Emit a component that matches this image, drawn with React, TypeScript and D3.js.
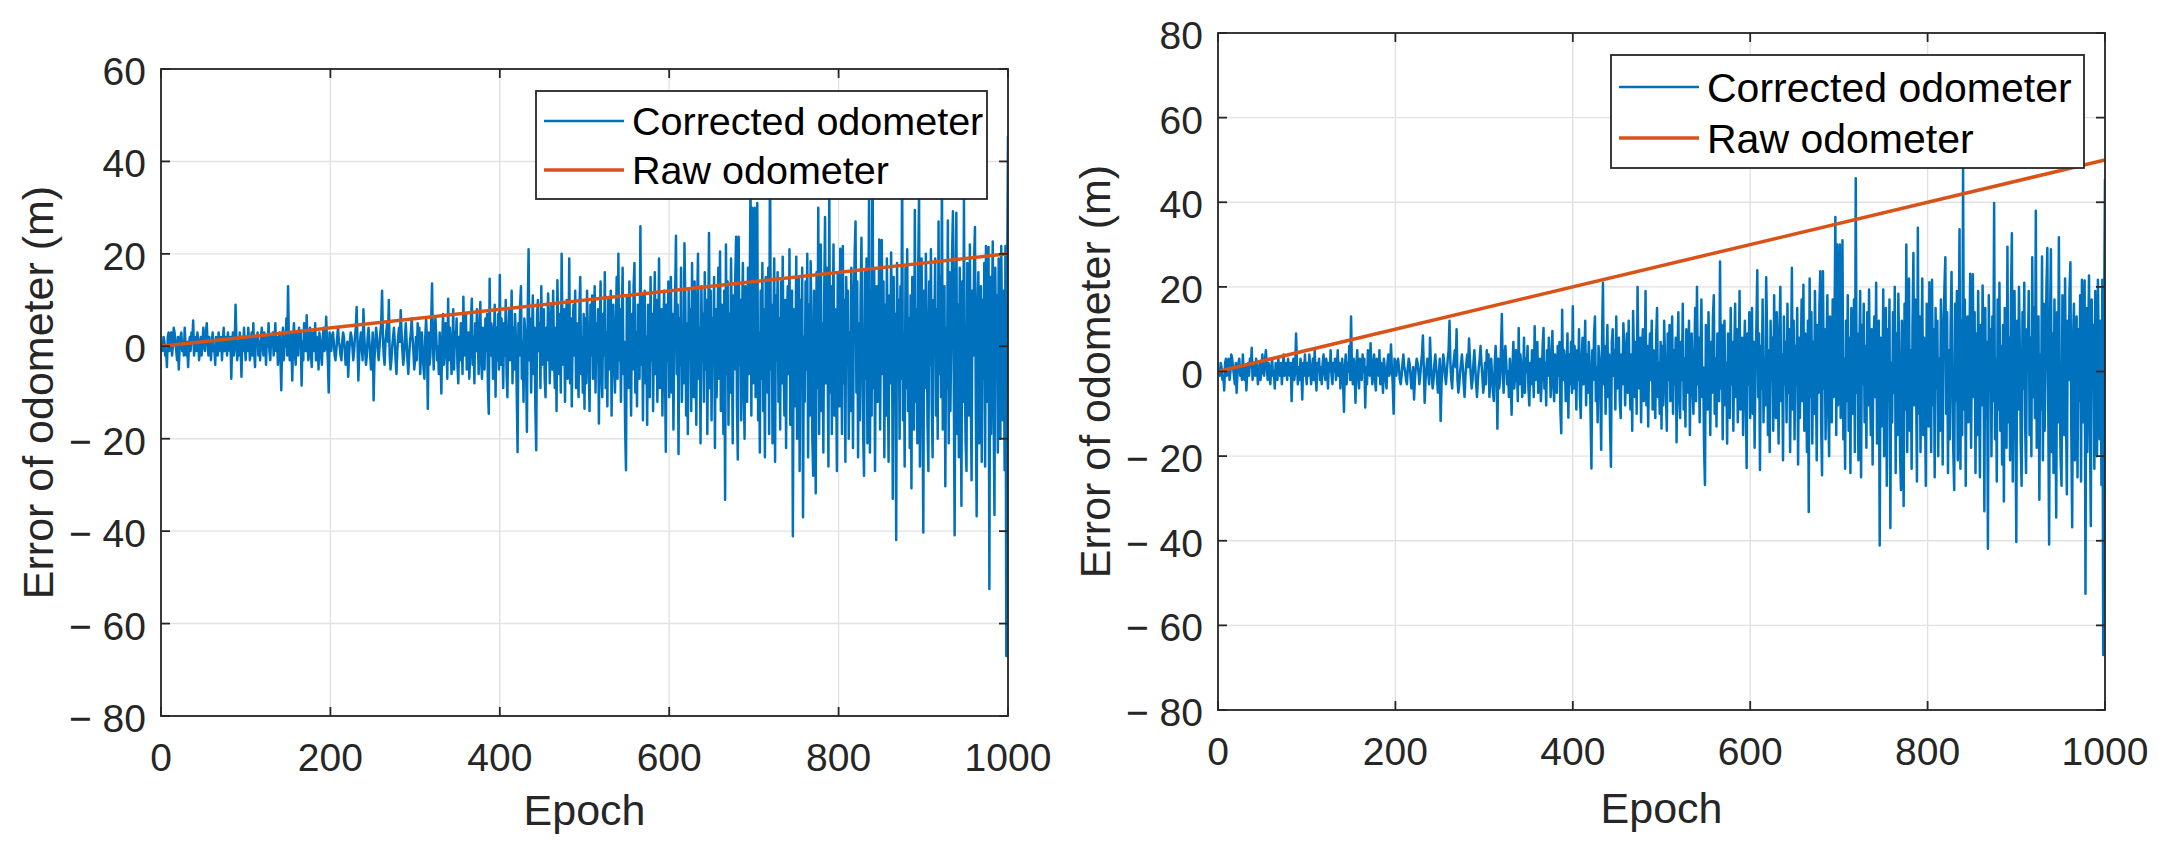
import * as d3 from 'd3'

// Corrected odometer error in blocks of 100 epochs
const err000 = [
  0.5, -1, 2, 1, -2, -1, -4.5, 2, 3, -1,
  1, 3, -2, 0, 4, 3, 1, -1, -3, 2,
  -5, 0, 2, 3, -1, 1, -2, 4, 0, -2,
  1, -4.5, 0, 2, -1, 3, 1, 5.6, -2, 0,
  2, -1, 3, 1, -3, 0, 2, -2, 1, 4,
  0, -1, 3, 5, 1, -2, 2, 0, -3, 1,
  3, -1, 0, -4, 2, 1, -2, 3, 0, -1,
  2, -3, 1, 4, -1, 0, 2, -2, 3, 1,
  -1, 2, -7, 1, 3, -2, 0, 9, 2, -3,
  1, -2, 3, 0, -6.6, 2, -1, 4, 0, -3,
]
const err100 = [
  2, -1, 4, 1, -3, 0, 3, -2, 5, -1,
  -4.5, 2, 0, 3, -2, 1, -3, 2, 4, 0,
  -2, 3, 1, -4, 2, 0, 5, -1, -3, 2,
  0, 3, -2, 1, 5, -1, 2, -4, 0, 3,
  -2, -9.5, 1, 4, -3, 2, 0, 6, -2, 13,
  1, -3, 3, 0, -7.4, 2, 5, -1, -4, 3,
  1, -2, 4, 0, 3, -8.5, 1, -3, 5, 2,
  -1, 6.7, 0, -3, 2, 4, -2, -4.5, 3, 1,
  -1, 5, -3, 2, 0, -5, 3, 1, -2, -4,
  2, 4, -1, 0, 6.4, 1, -3, -10, 3, 2,
]
const err200 = [
  -1, 2, 3, 1, -2, -3, -1, 2, 4, 1,
  0, -2, -3, 1, 3, 2, -1, -4, -2, 1,
  -6.6, -2, 1, 3, 2, 0, -3, -1, 2, 4,
  8.5, 1, -7.4, -2, 1, 3, 0, -3, 8, 2,
  -1, -4, -2, 2, 4, 1, -2, -5, -1, 3,
  -11.7, -3, 1, 4, 2, -1, -3, 0, 3, 5,
  12, 2, -2, -4, 1, 3, 5, 1, 10, -2,
  -5, -3, 0, 2, 4, 1, -3, -6, -1, 2,
  4, 1, 7.8, 3, -1, -4, -2, 2, 5, 1,
  -3, -6, -2, 1, 3, 6, 2, -1, -5, -3,
]
const err300 = [
  2, -3, 5, 1, 4, -6, -2, 3, -1, -5,
  -7, 2, 6, 1, -13.5, 3, -4, -2, 5, 13.6,
  1, -5, 4, 6, 2, -3, 0, -6, 3, -2,
  -10.2, 1, 7, -4, -1, 5, 2, -7, 10.3, -3,
  4, 1, -6, -2, 8, -5, 3, 0, 6, -4,
  -8, 2, -3, 5, 1, -6, 10.7, -2, 4, 7,
  -5, 0, 3, -7, -2, 6, 10.3, -4, 2, -8,
  5, -1, 8, 3, -6, 1, 9.6, -3, -7, 4,
  2, -5, 6, -1, 7, -9, -14.6, 14.6, -2, 5,
  3, -7, 1, 9, -10.9, 4, -3, 7, -5, 15.4,
]
const err400 = [
  -4, 6, 2, -9, 5, -2, 10, -6, -11, 3,
  8, -3, 1, 12, -8, 4, -5, 7, 2, -10,
  -22.9, 5, -2, 9, 13, -7, 1, -12, 6, 3,
  -4, -18.5, 8, 21, -3, 6, -10, 2, 11, -6,
  4, -13, -22.5, 7, 10, -1, 5, -9, 13, -4,
  2, 8, -7, -11, 4, -3, 11.4, 6, -8, 1,
  9, -5, 12, -2, -9, 4, -14, 14.3, 3, -6,
  7, -10, 20, 2, -4, 8, -12, 5, 10, -7,
  -3, 19, -8, 6, -13, 3, 9, -2, 12, -9,
  5, -4, -11, 8, 15, -6, 2, -10, 7, -13.5,
]
const err500 = [
  6, -8, 12, 3, -5, -14, 9, -2, 11, -7,
  2, 13, -10, 5, -3, 8, -16.7, 4, 14, -6,
  -11, 7, -2, 16, -9, 3, -13, 10, 1, -5,
  12, -15, 6, 9, -4, -10, 3, 15, -7, 20,
  -3, 8, -12, 5, 17, -6, 1, -18, -26.8, 11,
  4, -9, 14, 2, -15, 7, -5, 13, 18, -10,
  3, -13, 9, -1, -7, 26, -4, 11, -16, 6,
  12, -8, 2, -17, 9, 5, -11, 15, -3, 7,
  -14, 4, 16, -6, 10, -12, -2, 19, -9, 5,
  8, -15, 2, 12, -5, -22.8, 9, -3, 14, -11,
]
const err600 = [
  4, 15, -10, 7, -18, 2, 11, 23.9, -6, 9,
  -23.3, 6, -4, 17, -12, 3, -8, 22.3, 10, -15,
  5, -19, 12, -2, 8, -14, 18, -6, -11, 14,
  1, -17, 9, 20, -7, 4, -21, 13, -3, 7,
  -12, 16, -5, 10, -19, 2, 24.5, -9, 12, -16,
  6, -3, 15, -22, 8, -11, 3, 17, -7, 20.5,
  -14, 9, -2, -19, 12, -33.2, 22, -6, 14, -17,
  7, -10, 19, 2, -21, 11, -5, 15, 23.7, -13,
  -24.5, 23.7, -4, 10, -16, 5, 18, -9, -20, 13,
  2, -12, 17, -6, 9, 36.5, -15, 30, -8, 14,
]
const err700 = [
  30, -11, 6, 31, -16, 3, -23, 12, -7, 18,
  -14, 8, -24, 15, 2, -10, 17, -19, 45.7, -5,
  9, -21, 4, 19, -25, 11, -3, 16, -12, 6,
  -18, 14, -8, 19.4, -2, -15, 10, -22, 7, 13,
  -6, 21, -17, 3, 12, -41.1, 8, -13, -4, 19.4,
  -20, 6, 15, -27, 10, -7, 17, -37, 2, -12,
  14, -5, 20, -24, 9, -15, 18.4, 4, -20, -28,
  12, -3, -31.8, 16, -9, 30, -19, 7, 22, -14,
  5, -23, 11, 28, -8, 17, -2, -26, 34, -10,
  13, -19, 3, 22, -15, 8, -6, -27, 16, -4,
]
const err800 = [
  -13, 21.1, 6, -19, 21.7, -8, 10, -25, 15, -4,
  12, -20, 3, -14, 17, 7, -22, 9, 20, 27,
  -10, 14, -24, 5, -16, 11, 23.5, -3, -19, -28,
  16, -7, 19, -21, 4, 33.6, -23, 12, -15, 48,
  -9, 17, -27, 6, 13, -12, 2, 23.1, -18, 8,
  23, -6, 14, -24, 9, -15, 19, -3, -25, 11,
  -8, 20.3, 5, -33, 15, -11, 7, -41.9, 18, -4,
  10, -20, 13, -7, 39.8, -16, 3, -26, 17, -9,
  21, -14, 6, -22, 11, -30.7, 15, -5, -18, 29.5,
  -12, 8, -21, 17, 32.7, -26, 4, 19, -10, -40.3,
]
const err900 = [
  12, -9, 20, 5, -17, -27, 14, -4, 21, -13,
  -24, 10, 3, 19, -15, 8, -20, 27, -6, 15,
  -11, 38, -18, 7, 13, -30.3, 4, -9, 27.2, -21,
  16, -14, 2, 20, 29.2, -8, -40.9, 11, 28.9, -19,
  9, -24, 17, -3, -34.5, 14, -12, 31.7, -6, -21,
  -27, 18, 5, -15, 22, -9, -29, 12, -2, 19,
  25.8, -14, -36.8, 8, 16, -21, 3, 13, -25, 10,
  -7, 18, -26, 21.7, -12, 5, 21.5, -52.5, 15, -19,
  6, 22.7, -13, -36.5, 17, -4, 11, -23, 19, -10,
  -20, 21.7, 3, -16, 12, -26.8, 21.7, -67, 14, 45.5,
]

const correctedError = [
  ...err000, ...err100, ...err200, ...err300, ...err400,
  ...err500, ...err600, ...err700, ...err800, ...err900,
]

// Raw odometer drift: straight line from start to end epoch
const rawEpochs = [0, 1000]
const rawLeft = [0, 20]
const rawRight = [0, 50]

const xTicks = [0, 200, 400, 600, 800, 1000]
const yTicksLeft = [-80, -60, -40, -20, 0, 20, 40, 60]
const yTicksRight = [-80, -60, -40, -20, 0, 20, 40, 60, 80]
const legendLabels = ['Corrected odometer', 'Raw odometer']

const BLUE = '#0072BD'
const ORANGE = '#D95319'
const AXIS = '#262626'
const GRID = '#e2e2e2'
const FONT = '"Liberation Sans", Arial, Helvetica, sans-serif'

const fmt = (v: number) => (v < 0 ? `\u2212 ${Math.abs(v)}` : `${v}`)

interface PanelProps {
  id: string
  left: number
  right: number
  top: number
  bottom: number
  yDomain: [number, number]
  yTicks: number[]
  raw: number[]
  legendW: number
  legendH: number
  legendFont: number
  legendRow1: number
  legendRow2: number
  yLabelX: number
  xLabelY: number
}

function Panel(p: PanelProps) {
  const x = d3.scaleLinear().domain([0, 1000]).range([p.left, p.right])
  const y = d3.scaleLinear().domain(p.yDomain).range([p.bottom, p.top])
  const tickLen = 9

  const blueLine = d3
    .line<number>()
    .x((_, i) => x(i + 1))
    .y((d) => y(d))(correctedError)

  const rawLine = d3
    .line<number>()
    .x((_, i) => x(rawEpochs[i]))
    .y((d) => y(d))(p.raw)

  const lgLeft = p.right - 21 - p.legendW
  const lgTop = p.top + 22
  const sampleX0 = lgLeft + 8
  const sampleX1 = lgLeft + 88
  const textX = lgLeft + 96

  return (
    <g>
      <defs>
        <clipPath id={`clip-${p.id}`}>
          <rect x={p.left} y={p.top} width={p.right - p.left} height={p.bottom - p.top} />
        </clipPath>
      </defs>

      {/* grid */}
      {xTicks.map((t) => (
        <line key={`gx${t}`} x1={x(t)} x2={x(t)} y1={p.top} y2={p.bottom} stroke={GRID} strokeWidth={1.4} />
      ))}
      {p.yTicks.map((t) => (
        <line key={`gy${t}`} x1={p.left} x2={p.right} y1={y(t)} y2={y(t)} stroke={GRID} strokeWidth={1.4} />
      ))}

      {/* series */}
      <g clipPath={`url(#clip-${p.id})`}>
        <path d={blueLine ?? ''} fill="none" stroke={BLUE} strokeWidth={2.5} strokeLinejoin="round" />
        <path d={rawLine ?? ''} fill="none" stroke={ORANGE} strokeWidth={3.5} />
      </g>

      {/* box and ticks */}
      <rect x={p.left} y={p.top} width={p.right - p.left} height={p.bottom - p.top} fill="none" stroke={AXIS} strokeWidth={1.8} />
      {xTicks.map((t) => (
        <g key={`tx${t}`}>
          <line x1={x(t)} x2={x(t)} y1={p.bottom} y2={p.bottom - tickLen} stroke={AXIS} strokeWidth={1.8} />
          <line x1={x(t)} x2={x(t)} y1={p.top} y2={p.top + tickLen} stroke={AXIS} strokeWidth={1.8} />
          <text x={x(t)} y={p.bottom + 55} textAnchor="middle" fontSize={39} fill={AXIS} fontFamily={FONT}>
            {t}
          </text>
        </g>
      ))}
      {p.yTicks.map((t) => (
        <g key={`ty${t}`}>
          <line x1={p.left} x2={p.left + tickLen} y1={y(t)} y2={y(t)} stroke={AXIS} strokeWidth={1.8} />
          <line x1={p.right} x2={p.right - tickLen} y1={y(t)} y2={y(t)} stroke={AXIS} strokeWidth={1.8} />
          <text x={p.left - 15} y={y(t) + 16} textAnchor="end" fontSize={39} fill={AXIS} fontFamily={FONT}>
            {fmt(t)}
          </text>
        </g>
      ))}

      {/* axis labels */}
      <text x={(p.left + p.right) / 2} y={p.xLabelY} textAnchor="middle" fontSize={43} fill={AXIS} fontFamily={FONT}>
        Epoch
      </text>
      <text
        transform={`translate(${p.yLabelX},${(p.top + p.bottom) / 2}) rotate(-90)`}
        textAnchor="middle"
        fontSize={43}
        fill={AXIS}
        fontFamily={FONT}
      >
        Error of odometer (m)
      </text>

      {/* legend */}
      <rect x={lgLeft} y={lgTop} width={p.legendW} height={p.legendH} fill="#fff" stroke={AXIS} strokeWidth={1.8} />
      {legendLabels.map((label, i) => {
        const cy = lgTop + (i === 0 ? p.legendRow1 : p.legendRow2)
        return (
          <g key={label}>
            <line x1={sampleX0} x2={sampleX1} y1={cy} y2={cy} stroke={i === 0 ? BLUE : ORANGE} strokeWidth={i === 0 ? 2.7 : 3.5} />
            <text x={textX} y={cy + p.legendFont * 0.36} fontSize={p.legendFont} fill="#000" fontFamily={FONT}>
              {label}
            </text>
          </g>
        )
      })}
    </g>
  )
}

export default function App() {
  return (
    <svg
      width={2167}
      height={847}
      style={{ position: 'absolute', left: 0, top: 0, background: '#fff' }}
    >
      <rect width={2167} height={847} fill="#fff" />
      <Panel
        id="left"
        left={161}
        right={1008}
        top={69}
        bottom={716}
        yDomain={[-80, 60]}
        yTicks={yTicksLeft}
        raw={rawLeft}
        legendW={451}
        legendH={108}
        legendFont={39.5}
        legendRow1={30}
        legendRow2={79}
        yLabelX={53}
        xLabelY={825}
      />
      <Panel
        id="right"
        left={1218}
        right={2105}
        top={33}
        bottom={710}
        yDomain={[-80, 80]}
        yTicks={yTicksRight}
        raw={rawRight}
        legendW={473}
        legendH={113}
        legendFont={41}
        legendRow1={32}
        legendRow2={83}
        yLabelX={1110}
        xLabelY={823}
      />
    </svg>
  )
}
